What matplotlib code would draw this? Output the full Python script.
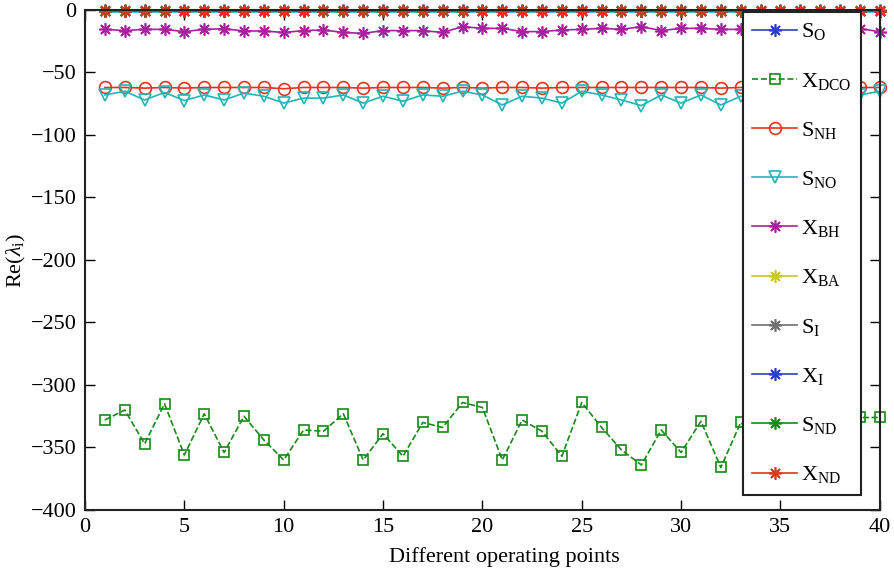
import numpy as np
import matplotlib
matplotlib.use("Agg")
import matplotlib.pyplot as plt

plt.rcParams['font.family'] = ['Liberation Serif', 'DejaVu Serif']
plt.rcParams['mathtext.fontset'] = 'custom'
plt.rcParams['mathtext.rm'] = 'Liberation Serif'
plt.rcParams['mathtext.it'] = 'Liberation Serif:italic'

# --------------------
# Data: real parts of eigenvalues at each operating point
# --------------------
points = list(range(1, 41))

S_O = [-0.8, -0.8, -0.8, -0.8, -0.8, -0.8, -0.8, -0.8, -0.8, -0.8,
       -0.8, -0.8, -0.8, -0.8, -0.8, -0.8, -0.8, -0.8, -0.8, -0.8,
       -0.8, -0.8, -0.8, -0.8, -0.8, -0.8, -0.8, -0.8, -0.8, -0.8,
       -0.8, -0.8, -0.8, -0.8, -0.8, -0.8, -0.8, -0.8, -0.8, -0.8]

X_DCO = [-328, -320, -347, -315, -356, -323, -354, -325, -344, -360,
         -336, -337, -323, -360, -339, -357, -330, -334, -314, -318,
         -360, -328, -337, -357, -314, -334, -352, -364, -336, -354,
         -329, -366, -330, -345, -322, -352, -338, -328, -326, -326]

S_NH = [-62, -62, -62.5, -62, -62.5, -62, -62, -62, -62, -63,
        -62, -62, -62, -62.5, -62, -62, -62, -62.5, -62, -62.5,
        -62, -62, -62.5, -62, -62, -62, -62, -62, -62, -62,
        -62, -62.5, -62, -62, -62, -62, -62, -62, -62, -62]

S_NO = [-68, -65, -72, -66, -72.5, -68, -72, -66.5, -69, -74.5,
        -70.5, -70.5, -68, -74.5, -69, -73, -68, -69, -65, -68,
        -76, -69, -70.5, -74.5, -65, -68, -72, -76.5, -68, -74.5,
        -68, -76, -69, -72, -67, -74, -69, -73, -68, -65]

X_BH = [-15.5, -16.5, -15.5, -15.5, -17.3, -15.5, -15, -16.8, -16.8, -18,
        -16.5, -16, -18, -18.7, -16.5, -16.5, -16.5, -18, -13.3, -14.7,
        -14.7, -17.3, -17.3, -16, -15.5, -14.7, -15.5, -13.3, -16.5, -14.7,
        -14.7, -15.5, -15.5, -16, -15, -17, -15, -16, -15, -17.3]

X_BA = [-0.5, -0.5, -0.5, -0.5, -0.5, -0.5, -0.5, -0.5, -0.5, -0.5,
        -0.5, -0.5, -0.5, -0.5, -0.5, -0.5, -0.5, -0.5, -0.5, -0.5,
        -0.5, -0.5, -0.5, -0.5, -0.5, -0.5, -0.5, -0.5, -0.5, -0.5,
        -0.5, -0.5, -0.5, -0.5, -0.5, -0.5, -0.5, -0.5, -0.5, -0.5]

S_I = [-0.1, -0.1, -0.1, -0.1, -0.1, -0.1, -0.1, -0.1, -0.1, -0.1,
       -0.1, -0.1, -0.1, -0.1, -0.1, -0.1, -0.1, -0.1, -0.1, -0.1,
       -0.1, -0.1, -0.1, -0.1, -0.1, -0.1, -0.1, -0.1, -0.1, -0.1,
       -0.1, -0.1, -0.1, -0.1, -0.1, -0.1, -0.1, -0.1, -0.1, -0.1]

X_I = [-0.6, -0.6, -0.6, -0.6, -0.6, -0.6, -0.6, -0.6, -0.6, -0.6,
       -0.6, -0.6, -0.6, -0.6, -0.6, -0.6, -0.6, -0.6, -0.6, -0.6,
       -0.6, -0.6, -0.6, -0.6, -0.6, -0.6, -0.6, -0.6, -0.6, -0.6,
       -0.6, -0.6, -0.6, -0.6, -0.6, -0.6, -0.6, -0.6, -0.6, -0.6]

S_ND = [-0.9, -0.9, -0.9, -0.9, -0.9, -0.9, -0.9, -0.9, -0.9, -0.9,
        -0.9, -0.9, -0.9, -0.9, -0.9, -0.9, -0.9, -0.9, -0.9, -0.9,
        -0.9, -0.9, -0.9, -0.9, -0.9, -0.9, -0.9, -0.9, -0.9, -0.9,
        -0.9, -0.9, -0.9, -0.9, -0.9, -0.9, -0.9, -0.9, -0.9, -0.9]

X_ND = [-1.0, -1.0, -1.0, -1.0, -1.0, -1.0, -1.0, -1.0, -1.0, -1.0,
        -1.0, -1.0, -1.0, -1.0, -1.0, -1.0, -1.0, -1.0, -1.0, -1.0,
        -1.0, -1.0, -1.0, -1.0, -1.0, -1.0, -1.0, -1.0, -1.0, -1.0,
        -1.0, -1.0, -1.0, -1.0, -1.0, -1.0, -1.0, -1.0, -1.0, -1.0]

# remaining state (not in legend)
S_ALK = [-1.6, -1.6, -1.6, -1.6, -1.6, -1.6, -1.6, -1.6, -1.6, -1.6,
         -1.6, -1.6, -1.6, -1.6, -1.6, -1.6, -1.6, -1.6, -1.6, -1.6,
         -1.6, -1.6, -1.6, -1.6, -1.6, -1.6, -1.6, -1.6, -1.6, -1.6,
         -1.6, -1.6, -1.6, -1.6, -1.6, -1.6, -1.6, -1.6, -1.6, -1.6]

# --------------------
# Styles (MATLAB-like colour order)
# --------------------
blue = '#2b3fc4'
green = '#178a17'
red = '#e8321e'
cyan = '#22b6b6'
magenta = '#a8209e'
yellow = '#c8c81e'
gray = '#707070'
star = (8, 2, 0)

series = [
    (S_O, r'$\mathrm{S_{O}}$', blue, star, '-', 9),
    (X_DCO, r'$\mathrm{X_{DCO}}$', green, 's', '--', 7),
    (S_NH, r'$\mathrm{S_{NH}}$', red, 'o', '-', 8.5),
    (S_NO, r'$\mathrm{S_{NO}}$', cyan, 'v', '-', 8.5),
    (X_BH, r'$\mathrm{X_{BH}}$', magenta, star, '-', 9),
    (X_BA, r'$\mathrm{X_{BA}}$', yellow, star, '-', 9),
    (S_I, r'$\mathrm{S_{I}}$', gray, star, '-', 9),
    (X_I, r'$\mathrm{X_{I}}$', blue, star, '-', 9),
    (S_ND, r'$\mathrm{S_{ND}}$', green, star, '-', 9),
    (X_ND, r'$\mathrm{X_{ND}}$', red, star, '-', 9),
]

# --------------------
# Plot
# --------------------
fig = plt.figure(figsize=(8.95, 5.8), dpi=100)
ax = fig.add_axes([0.095, 0.1207, 0.888, 0.8621])

for values, label, color, marker, ls, ms in series:
    ax.plot(points, values, linestyle=ls, color=color, marker=marker,
            markersize=ms, markerfacecolor='none', markeredgecolor=color,
            markeredgewidth=1.2, linewidth=1.2, label=label, clip_on=False)

ax.plot(points, S_ALK, linestyle='-', color=cyan, marker='s', markersize=3,
        linewidth=1.2, clip_on=False, zorder=1.9)

ax.set_xlim(0, 40)
ax.set_ylim(-400, 0)
ax.set_xticks(np.arange(0, 41, 5))
ax.set_yticks(np.arange(-400, 1, 50))

ax.tick_params(direction='in', length=7, width=1.0, labelsize=16,
               top=True, right=True, pad=6)
for spine in ax.spines.values():
    spine.set_linewidth(1.5)
    spine.set_color('#222222')

ax.set_xlabel("Different operating points", fontsize=16, labelpad=6)
ax.xaxis.set_label_coords(0.528, -0.075)
ax.set_ylabel(r"Re($\lambda_{\mathrm{i}}$)", fontsize=16, labelpad=2)

leg = fig.legend(loc='upper left', bbox_to_anchor=(743 / 895, 1 - 12 / 580),
                 fontsize=16, frameon=True, fancybox=False, framealpha=1,
                 edgecolor='#222222', handlelength=2.0, labelspacing=1.27,
                 borderaxespad=0, borderpad=0.42, handletextpad=0.2)
leg.get_frame().set_linewidth(1.5)

plt.savefig("out.png", dpi=100)
